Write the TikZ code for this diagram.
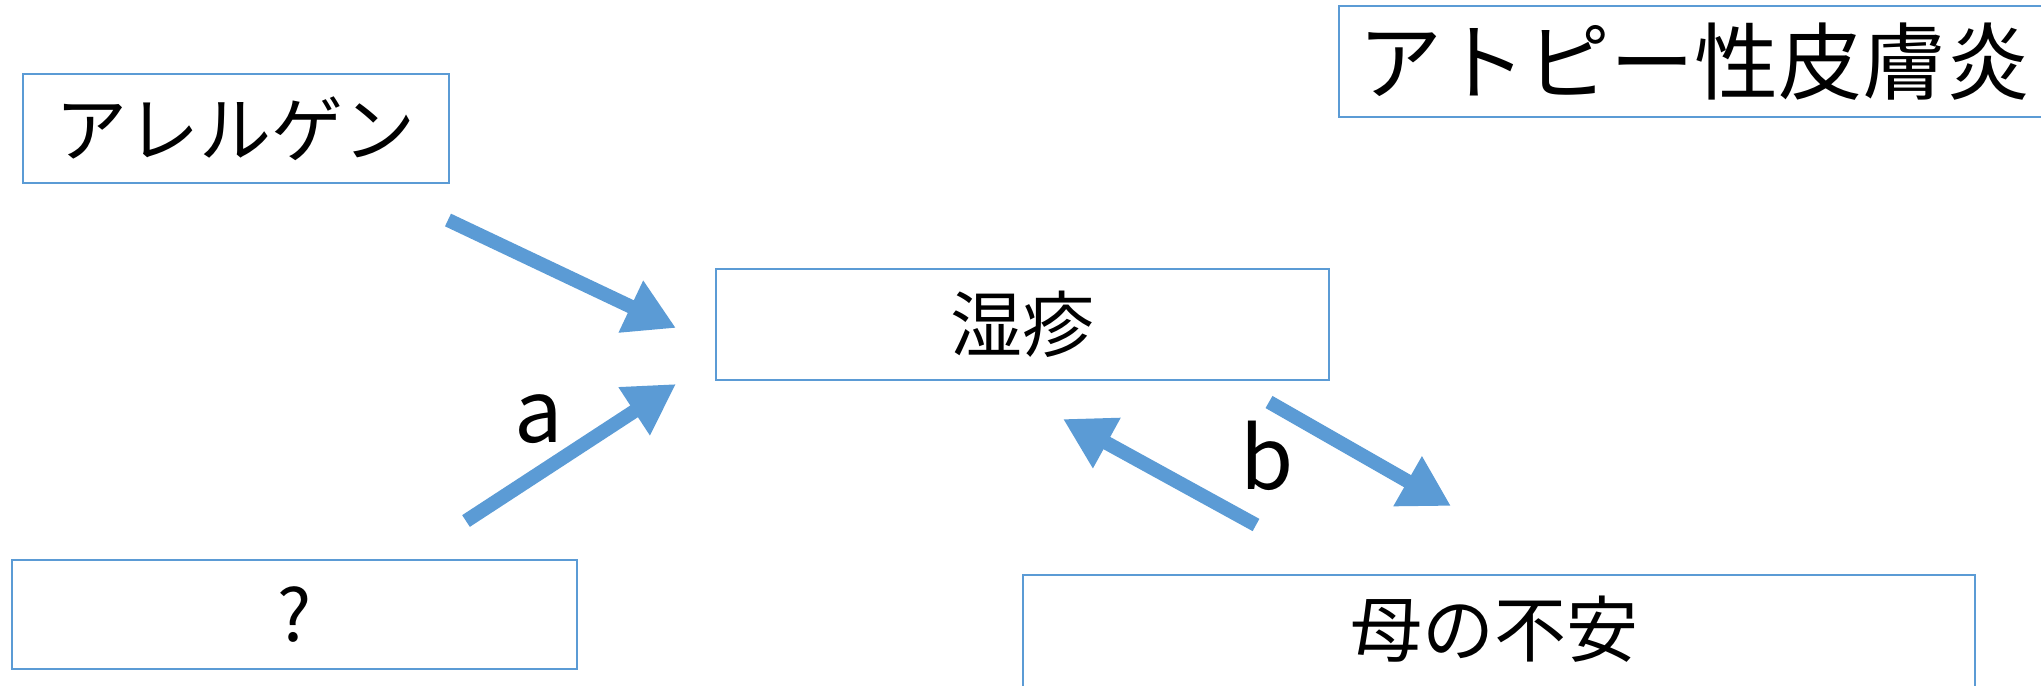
\documentclass[tikz,border=0pt]{standalone}
\usepackage{fontspec}
\setmainfont{Noto Sans CJK JP}
\usetikzlibrary{arrows.meta}
\definecolor{obl}{HTML}{5B9BD5}
\tikzset{
  box/.style={draw=obl, line width=1.6pt, rectangle, inner sep=0pt, font=\fontsize{72}{80}\selectfont},
  arr/.style={draw=obl, line width=14pt, -{Triangle[length=50pt,width=54pt]}},
  lbl/.style={font=\fontsize{86}{90}\selectfont, inner sep=0pt}
}
\begin{document}
\begin{tikzpicture}[x=1pt,y=-1pt]
\useasboundingbox (0,0) rectangle (2041,685);
\clip (0,0) rectangle (2041,685);
\node[box, anchor=north west, minimum width=426pt, minimum height=109pt] (allergen) at (22,73) {アレルゲン};
\node[box, anchor=north west, minimum width=740pt, minimum height=111pt, text width=700pt, align=left, inner xsep=20pt, font=\fontsize{84}{90}\selectfont] (atopy) at (1338,5) {アトピー性皮膚炎};
\node[box, minimum width=613pt, minimum height=111pt] (eczema) at (1022.5,324.5) {湿疹};
\node[box, minimum width=565pt, minimum height=109pt] (q) at (294.5,614.5) {?};
\node[box, anchor=north, minimum width=952pt, minimum height=150pt] (mother) at (1499,574) {};
\node[font=\fontsize{72}{80}\selectfont, inner sep=0pt] (mothertext) at (1494,629) {母の不安};

\coordinate (a1s) at (448,220);
\coordinate (a1e) at (676,328);
\coordinate (a2s) at (466,521);
\coordinate (a2e) at (676,384);
\coordinate (a3s) at (1256,525);
\coordinate (a3e) at (1063,419);
\coordinate (a4s) at (1269,402);
\coordinate (a4e) at (1451,506);
\draw[arr] (a1s) -- (a1e);
\draw[arr] (a2s) -- (a2e);
\draw[arr] (a3s) -- (a3e);
\draw[arr] (a4s) -- (a4e);
\node[lbl] (la) at (539,419) {a};
\node[lbl] (lb) at (1267,456) {b};
\end{tikzpicture}
\end{document}
